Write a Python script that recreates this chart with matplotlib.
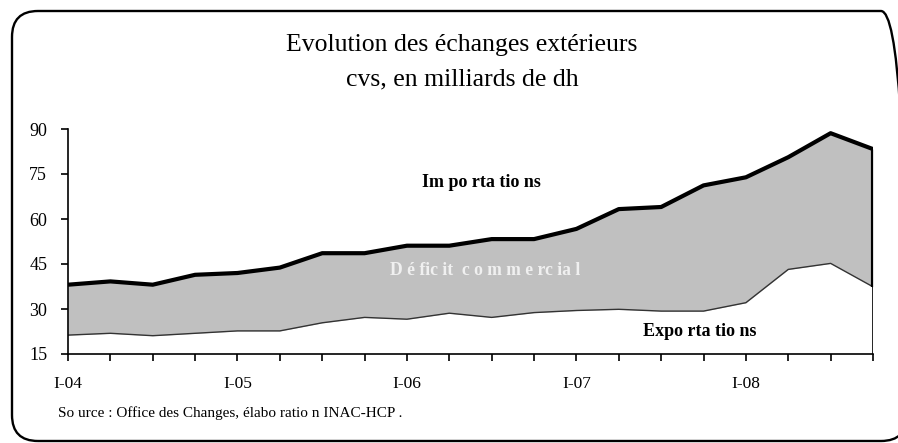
import numpy as np
import matplotlib.pyplot as plt
from matplotlib.patches import FancyBboxPatch

plt.rcParams['font.family'] = ['Liberation Serif', 'DejaVu Serif']

# quarterly data, I-04 .. IV-08 (milliards de dh, cvs)
quarters = ['I-04', 'II-04', 'III-04', 'IV-04',
            'I-05', 'II-05', 'III-05', 'IV-05',
            'I-06', 'II-06', 'III-06', 'IV-06',
            'I-07', 'II-07', 'III-07', 'IV-07',
            'I-08', 'II-08', 'III-08', 'IV-08']
importations = [38.1, 39.2, 38.1, 41.4, 42.0, 43.8, 48.6, 48.6, 51.1, 51.1,
                53.3, 53.3, 56.7, 63.3, 64.0, 71.2, 73.9, 80.6, 88.6, 83.3]
exportations = [21.3, 21.9, 21.1, 21.9, 22.7, 22.7, 25.4, 27.2, 26.6, 28.6,
                27.2, 28.8, 29.5, 29.9, 29.3, 29.3, 32.1, 43.2, 45.2, 37.4]
yticks = [15, 30, 45, 60, 75, 90]

x = np.arange(len(quarters))
W, H = 898, 443
fig = plt.figure(figsize=(W / 100, H / 100), dpi=100)

# rounded frame (pixel coords), right side runs off the canvas
frame = FancyBboxPatch((12, 2), 895, 430,
                       boxstyle='round,pad=0,rounding_size=26',
                       transform=None, fill=False,
                       edgecolor='black', linewidth=1.7, clip_on=False)
fig.patches.append(frame)

ax = fig.add_axes([68 / W, 1 - 354 / H, 805 / W, 225 / H])

ax.fill_between(x, exportations, importations, color='#c0c0c0', lw=0)
ax.plot(x, exportations, color='#333333', lw=1.0)
ax.vlines(x[-1], 15, exportations[-1], color='black', lw=1.2)
ax.vlines(x[-1], exportations[-1], importations[-1], color='black', lw=3)
ax.plot(x, importations, color='black', lw=3, solid_capstyle='butt')

ax.set_xlim(0, len(x) - 1)
ax.set_ylim(15, 90)
ax.set_yticks(yticks)
ax.set_yticklabels([str(v) for v in yticks], fontsize=13)
ax.set_xticks(x)
ax.set_xticklabels([q if q.startswith('I-') else '' for q in quarters], fontsize=12.5)
ax.tick_params(axis='x', direction='out', length=5, width=1.2, pad=11)
ax.tick_params(axis='y', direction='out', length=5, width=1.2, pad=10)
ax.spines['top'].set_visible(False)
ax.spines['right'].set_visible(False)
ax.spines['left'].set_linewidth(1.2)
ax.spines['bottom'].set_linewidth(1.2)
ax.set_facecolor('none')

ax.text(9.75, 72.3, 'Im po rta tio ns', fontsize=13, fontweight='bold', ha='center', va='center')
ax.text(9.85, 42.8, 'D é fic it  c o m m e rc ia l', fontsize=12.7, fontweight='bold',
        color='#f0f0f0', ha='center', va='center')
ax.text(14.9, 22.4, 'Expo rta tio ns', fontsize=13, fontweight='bold', ha='center', va='center')

fig.text(462 / W, 1 - 45 / H, 'Evolution des échanges extérieurs', fontsize=18.5,
         ha='center', va='center')
fig.text(462 / W, 1 - 79 / H, 'cvs, en milliards de dh', fontsize=18.5,
         ha='center', va='center')
fig.text(58 / W, 1 - 413 / H, 'So urce : Office des Changes, élabo ratio n INAC-HCP .',
         fontsize=11, ha='left', va='center')

fig.savefig('out.png', dpi=100)
